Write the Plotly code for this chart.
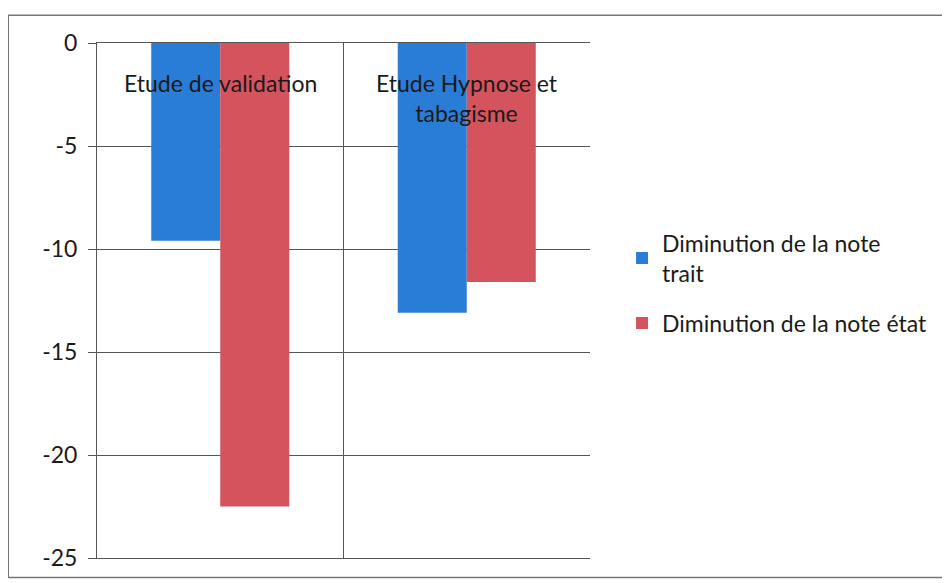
import plotly.graph_objects as go

categories = ["Etude de validation", "Etude Hypnose et tabagisme"]
category_labels = ["Etude de validation", "Etude Hypnose et<br>tabagisme"]
series_names = ["Diminution de la note<br>trait", "Diminution de la note état"]
trait_values = [-9.6, -13.1]
etat_values = [-22.5, -11.6]
y_ticks = [0, -5, -10, -15, -20, -25]

FONT = "Lato, Open Sans, sans-serif"
FS = 23

fig = go.Figure()
fig.add_trace(go.Bar(x=categories, y=trait_values, name=series_names[0],
                     legendgroup="trait",
                     marker=dict(color="#2a7dd6", line=dict(width=0))))
fig.add_trace(go.Bar(x=categories, y=etat_values, name=series_names[1],
                     legendgroup="etat",
                     marker=dict(color="#d5535d", line=dict(width=0))))

for cat, lab in zip(categories, category_labels):
    fig.add_annotation(x=cat, y=1, xref="x", yref="paper", text=lab,
                       showarrow=False, yanchor="top", yshift=-24,
                       font=dict(family=FONT, size=FS, color="#1a1a1a"),
                       align="center")

# outer chart frame
fig.add_shape(type="rect", xref="paper", yref="paper",
              x0=-0.18, x1=1.73, y0=-0.038, y1=1.054,
              line=dict(color="#777777", width=1.5), layer="below")

fig.update_layout(
    width=950, height=583,
    margin=dict(l=89, r=368, t=35, b=33),
    paper_bgcolor="white", plot_bgcolor="white",
    barmode="group", bargap=0.44, bargroupgap=0,
    font=dict(family=FONT, size=FS, color="#1a1a1a"),
    showlegend=True,
    legend=dict(x=1.065, y=0.653, xanchor="left", yanchor="top",
                font=dict(family=FONT, size=FS, color="#1a1a1a"),
                itemwidth=30, tracegroupgap=17, bgcolor="rgba(0,0,0,0)"),
    xaxis=dict(type="category", tickson="boundaries", showgrid=True,
               gridcolor="#555555", gridwidth=1, showticklabels=False,
               showline=True, linecolor="#555555", mirror=True, zeroline=False,
               ticks=""),
    yaxis=dict(range=[-25, 0], tickvals=y_ticks, ticktext=[str(v) for v in y_ticks],
               showgrid=True, gridcolor="#555555", gridwidth=1,
               showline=True, linecolor="#555555", zeroline=False,
               ticks="outside", ticklen=8, tickcolor="#555555",
               ticklabelstandoff=6,
               tickfont=dict(family=FONT, size=FS, color="#1a1a1a")),
)

fig.write_html("out.html")
